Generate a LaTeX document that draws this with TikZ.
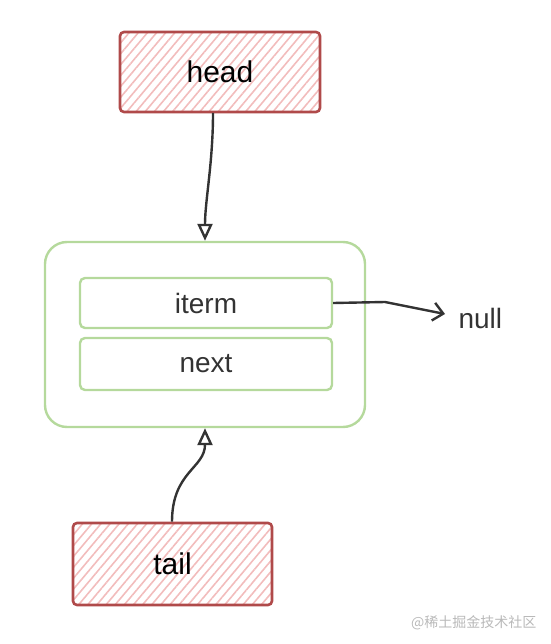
\documentclass[tikz,border=0pt]{standalone}
\usepackage{fontspec}
\setmainfont{Liberation Sans}
\newfontfamily\cjk{Noto Sans CJK SC}
\usetikzlibrary{arrows.meta,patterns.meta}
\definecolor{boxred}{HTML}{B04A4A}
\definecolor{hatchred}{HTML}{F2BCBC}
\definecolor{leaf}{HTML}{B5D99C}
\definecolor{ink}{HTML}{333333}
\tikzset{
  redbox/.style={draw=boxred, line width=2.6pt, rounded corners=4pt,
    pattern={Lines[angle=50,distance=7pt,line width=1.6pt]}, pattern color=hatchred,
    minimum width=#1, minimum height=80pt, font=\fontsize{30}{34}\selectfont, text=black},
  greenbox/.style={draw=leaf, line width=2.4pt, rounded corners=5pt, minimum width=252pt,
    font=\fontsize{28}{32}\selectfont, text=ink},
  outerbox/.style={draw=leaf, line width=2.4pt, rounded corners=22pt,
    minimum width=320pt, minimum height=185pt},
  arr/.style={draw=ink, line width=2.4pt, -{Triangle[open,length=17pt,width=15pt]}},
  barb/.style={draw=ink, line width=2.4pt, -{Straight Barb[length=10pt,width=18pt]}},
}
\begin{document}
\begin{tikzpicture}[x=1pt,y=-1pt]
\useasboundingbox (0,0) rectangle (550,644);
\node[redbox=200pt] (head) at (220,72) {head};
\node[outerbox] (cont) at (205,334.5) {};
\node[greenbox, minimum height=50pt] (iterm) at (206,303) {iterm};
\node[greenbox, minimum height=52pt] (next) at (206,364) {next};
\node[redbox=199pt, minimum height=82pt] (tail) at (172.5,564) {tail};
\node[anchor=west, font=\fontsize{28}{32}\selectfont, text=ink] (null) at (455,318) {null};
\coordinate (nullmid) at (385,302);
\coordinate (nullend) at (445,314);
\node[anchor=east, font=\cjk\fontsize{14}{16}\selectfont, text=gray!55] (wm) at (540,623) {@稀土掘金技术社区};
\draw[arr] ([xshift=-7pt]head.south) .. controls +(0,50) and +(0,-40) .. (cont.north);
\draw[arr] ([xshift=-0.5pt]tail.north) .. controls +(0,-50) and +(0,40) .. (cont.south);
\draw[barb] (iterm.east) -- (nullmid) -- (nullend);
\end{tikzpicture}
\end{document}
